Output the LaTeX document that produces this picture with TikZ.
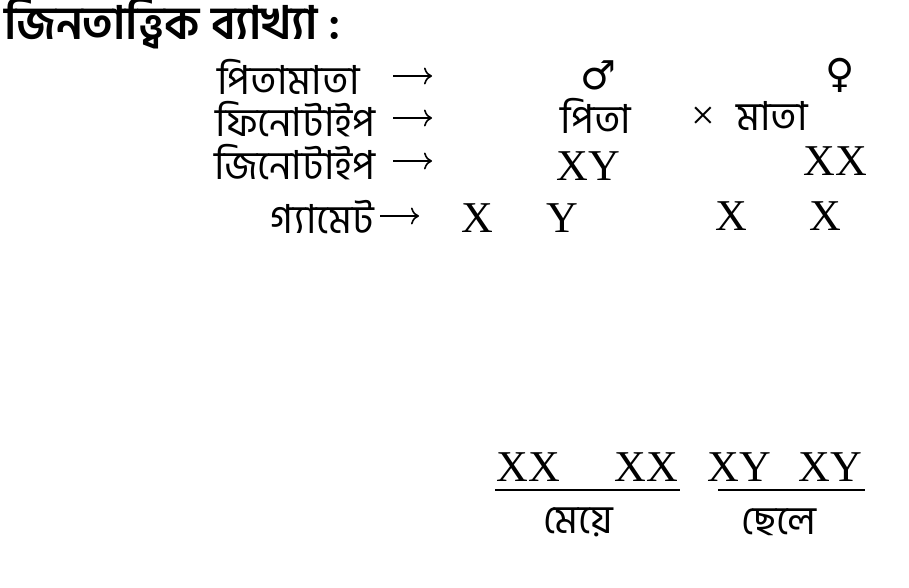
\documentclass[tikz,border=0pt]{standalone}
\usepackage{fontspec}
\setmainfont{Liberation Serif}
\newfontfamily\bnfont[Script=Bengali]{Hind Siliguri}
\newfontfamily\symfont{DejaVu Sans}
\usetikzlibrary{positioning,arrows.meta}

\tikzset{
  bn/.style={font=\bnfont\fontsize{40}{44}\selectfont, inner sep=0pt},
  lab/.style={bn, anchor=east},
  arr/.style={-{Computer Modern Rightarrow[length=8pt, width=17pt]}, line width=1.6pt},
  gen/.style={font=\fontsize{44}{48}\selectfont, inner sep=0pt},
  sex/.style={font=\symfont\fontsize{40}{44}\selectfont, inner sep=0pt},
  rule/.style={line width=2.5pt}
}

\begin{document}
\begin{tikzpicture}[x=1pt, y=-1pt]
\useasboundingbox (0,0) rectangle (909,588);

% heading
\node[bn, anchor=west, font=\bnfont\bfseries\fontsize{46}{50}\selectfont] (head) at (4,23) {জিনতাত্ত্বিক ব্যাখ্যা :};

% parents
\node[lab] (pm) at (360,77) {পিতামাতা};
\node[sex] (male) at (598,75) {♂};
\node[sex] (female) at (840,75) {♀};

% phenotype
\node[lab] (ph) at (376,119) {ফিনোটাইপ};
\node[bn] (pita) at (596,116) {পিতা};
\node[gen, font=\fontsize{42}{46}\selectfont] (cross) at (703,118) {×};
\node[bn] (mata) at (772,116) {মাতা};

% genotype
\node[lab] (ge) at (376,162) {জিনোটাইপ};
\node[gen] (gm) at (588,166) {XY};
\node[gen] (gf) at (835,161) {XX};

% gametes
\node[lab] (ga) at (374,217) {গ্যামেট};
\node[gen] (g1) at (477,218) {X};
\node[gen] (g2) at (562,218) {Y};
\node[gen] (g3) at (731,216) {X};
\node[gen] (g4) at (825,216) {X};

% arrows
\coordinate (a1) at (393,76);  \coordinate (b1) at (432,76);
\coordinate (a2) at (393,118); \coordinate (b2) at (432,118);
\coordinate (a3) at (393,161); \coordinate (b3) at (432,161);
\coordinate (a4) at (380,216); \coordinate (b4) at (419,216);
\foreach \i in {1,...,4}
  \draw[arr] (a\i) -- (b\i);

% offspring
\node[gen] (o1) at (528,467) {XX};
\node[gen] (o2) at (646,467) {XX};
\node[gen] (o3) at (739,467) {XY};
\node[gen] (o4) at (830,467) {XY};

\coordinate (dl) at (495,490);
\coordinate (dr) at (680,490);
\coordinate (sl) at (718,490);
\coordinate (sr) at (865,490);
\draw[rule] (dl) -- (dr);
\draw[rule] (sl) -- (sr);

\node[bn] (meye) at (578,522) {মেয়ে};
\node[bn] (chhele) at (779,522) {ছেলে};
\end{tikzpicture}
\end{document}
